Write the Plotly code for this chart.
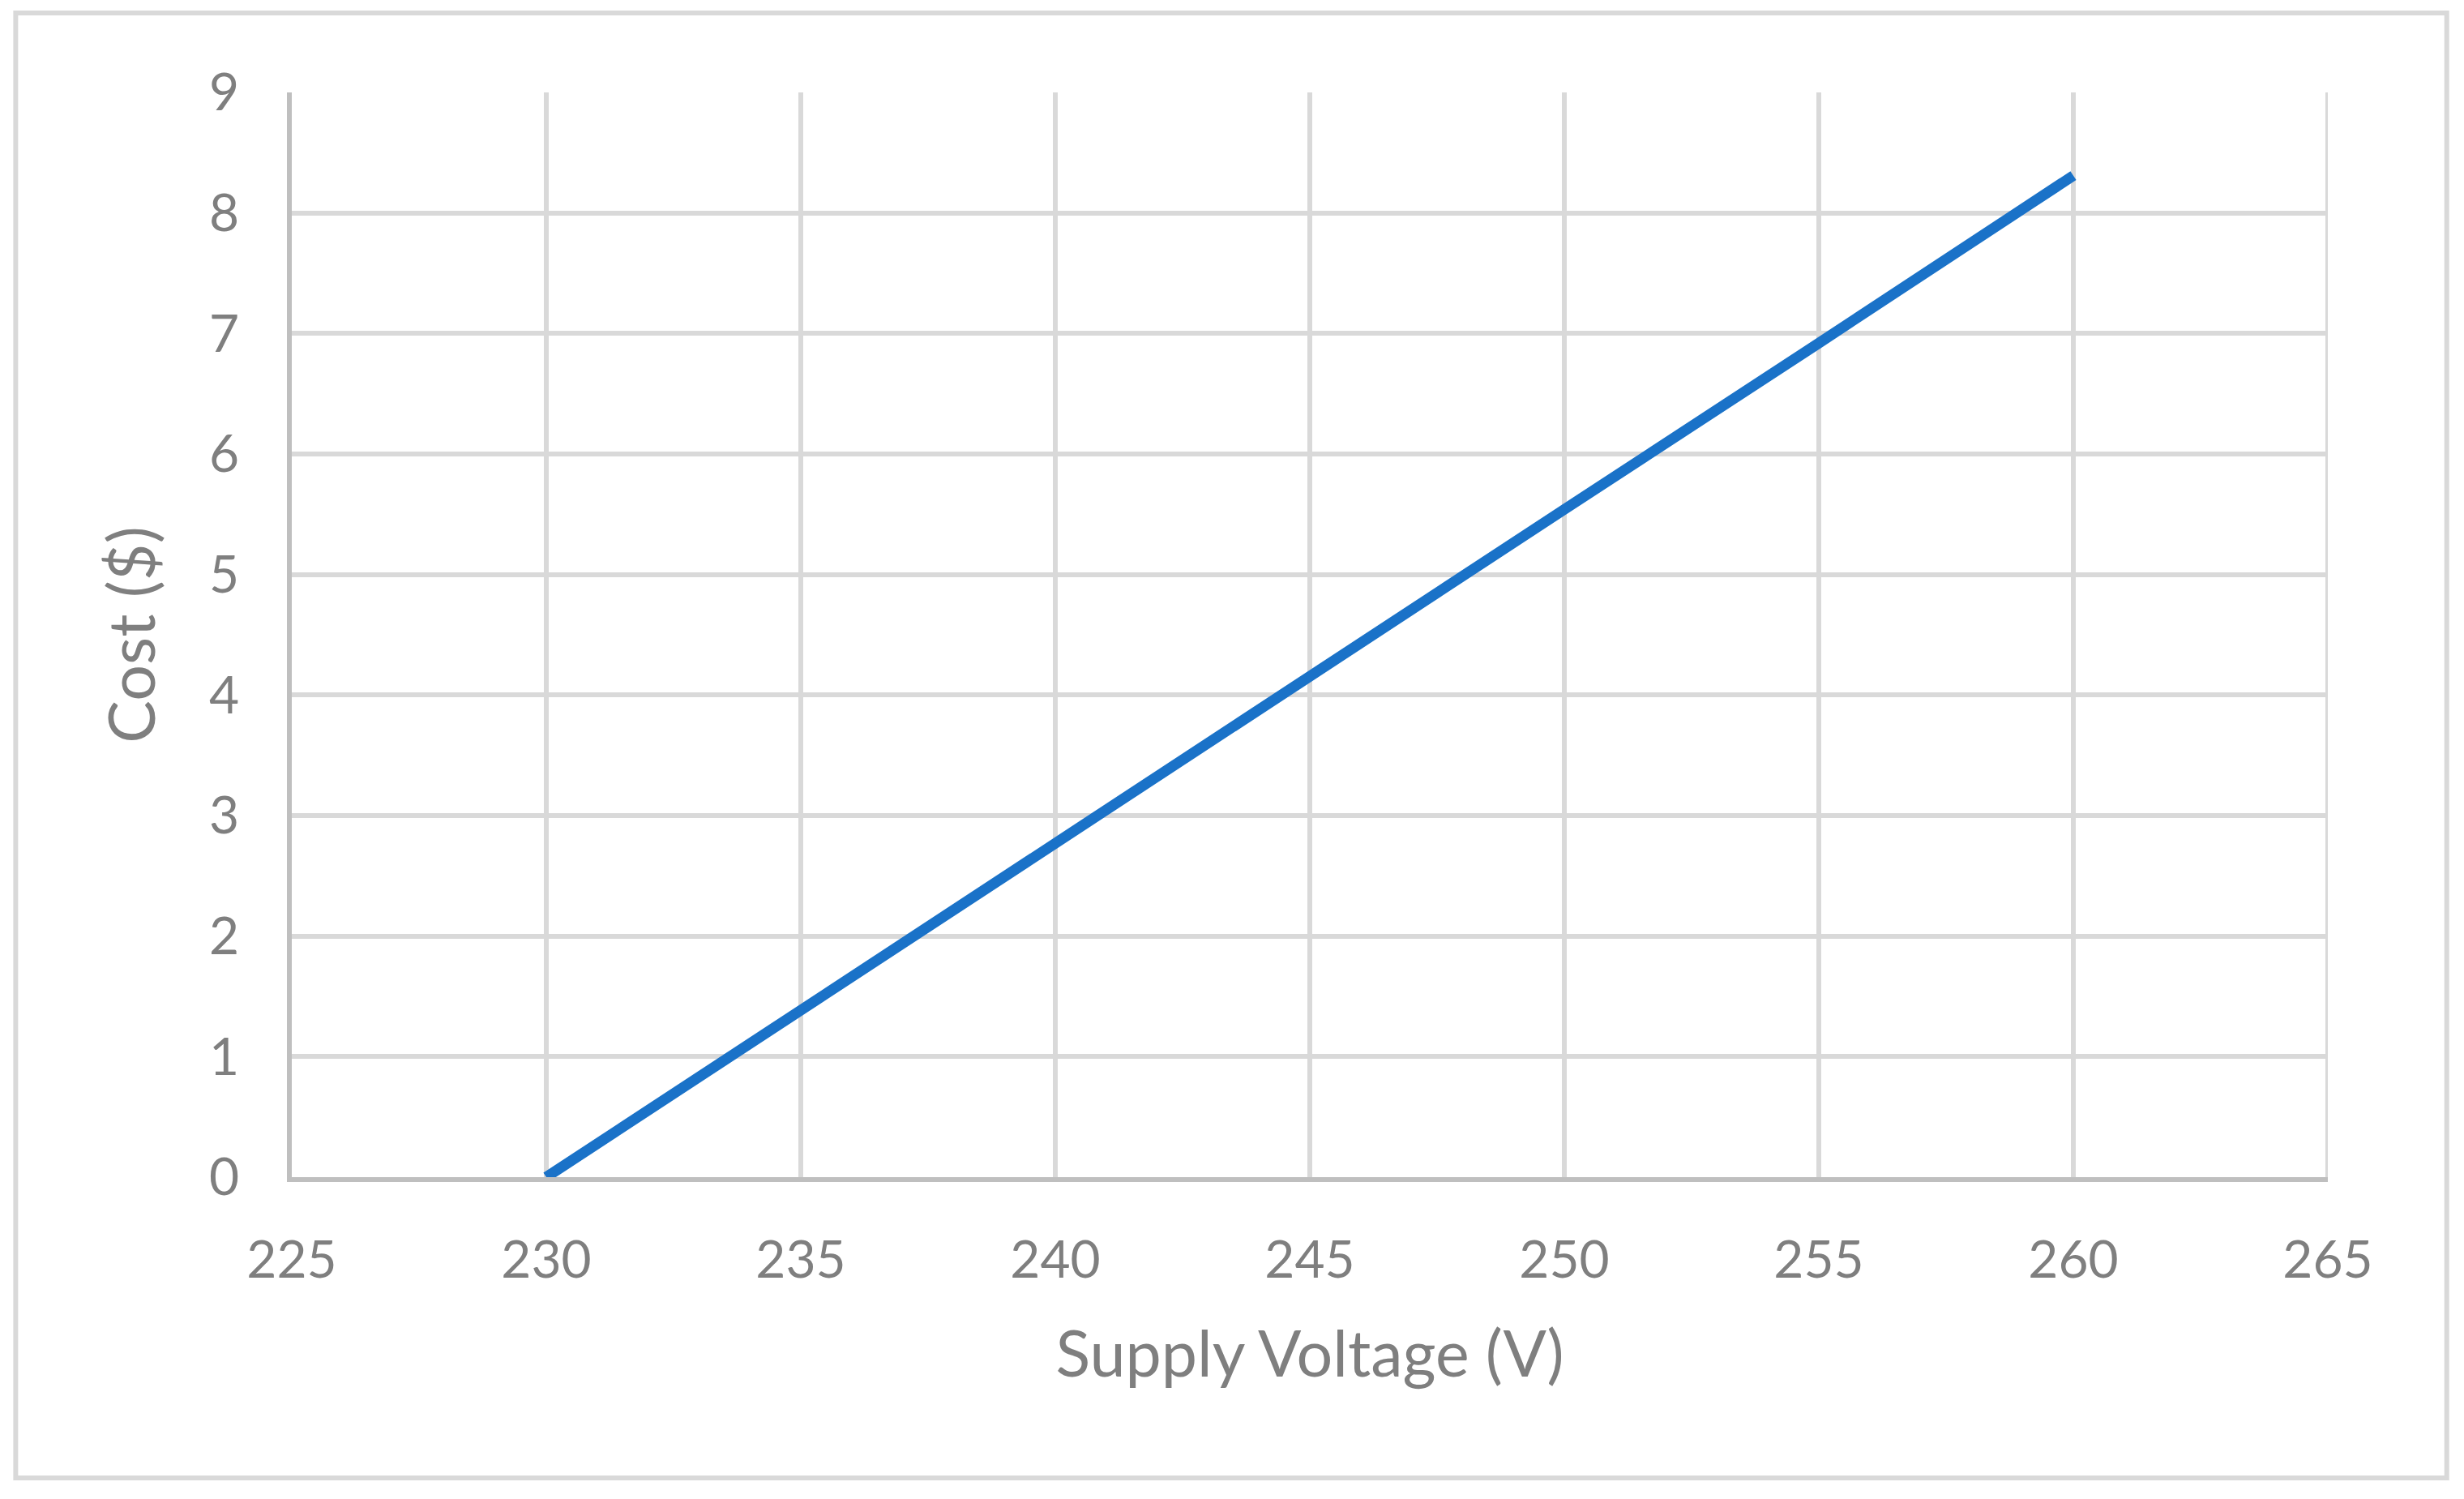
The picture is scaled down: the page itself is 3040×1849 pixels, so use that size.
import plotly.graph_objects as go

# supply voltage (V) and cost ($)
voltage = [230, 235, 240, 245, 250, 255, 260]
cost = [0.0, 1.39, 2.77, 4.15, 5.54, 6.92, 8.31]

x_ticks = [225, 230, 235, 240, 245, 250, 255, 260, 265]
y_ticks = [0, 1, 2, 3, 4, 5, 6, 7, 8, 9]

grey = "#7f7f7f"
grid = "#d9d9d9"
axis_col = "#bfbfbf"

fig = go.Figure(
    go.Scatter(
        x=voltage,
        y=cost,
        mode="lines",
        line=dict(color="#1a72c8", width=13),
        showlegend=False,
    )
)

fig.update_xaxes(
    range=[225, 265],
    tickvals=x_ticks,
    showgrid=True,
    gridcolor=grid,
    gridwidth=6,
    showline=True,
    linecolor=axis_col,
    linewidth=6,
    zeroline=False,
    ticks="",
    ticklabelstandoff=41,
    tickfont=dict(family="Lato", size=64, color=grey),
    title=dict(text="Supply Voltage (V)", font=dict(family="Lato", size=79, color=grey), standoff=56),
)
fig.update_yaxes(
    range=[0, 9],
    tickvals=y_ticks,
    showgrid=True,
    gridcolor=grid,
    gridwidth=6,
    showline=True,
    linecolor=axis_col,
    linewidth=6,
    zeroline=False,
    ticks="",
    ticklabelstandoff=46,
    tickfont=dict(family="Lato", size=64, color=grey),
    title=dict(text="Cost ($)", font=dict(family="Lato", size=79, color=grey), standoff=42),
)

# right and top edges drawn as grid lines at 265 and 9
fig.add_shape(type="line", xref="x", yref="y", x0=265, x1=265, y0=0, y1=9,
              line=dict(color=grid, width=6), layer="below")

# outer chart border
fig.add_shape(type="rect", xref="paper", yref="paper",
              x0=-0.1356, x1=1.0584, y0=-0.2773, y1=1.0732,
              line=dict(color=grid, width=6))

fig.update_layout(
    width=3024,
    height=1833,
    margin=dict(l=352, r=160, t=106, b=389),
    paper_bgcolor="white",
    plot_bgcolor="white",
)

fig.write_html("out.html")
